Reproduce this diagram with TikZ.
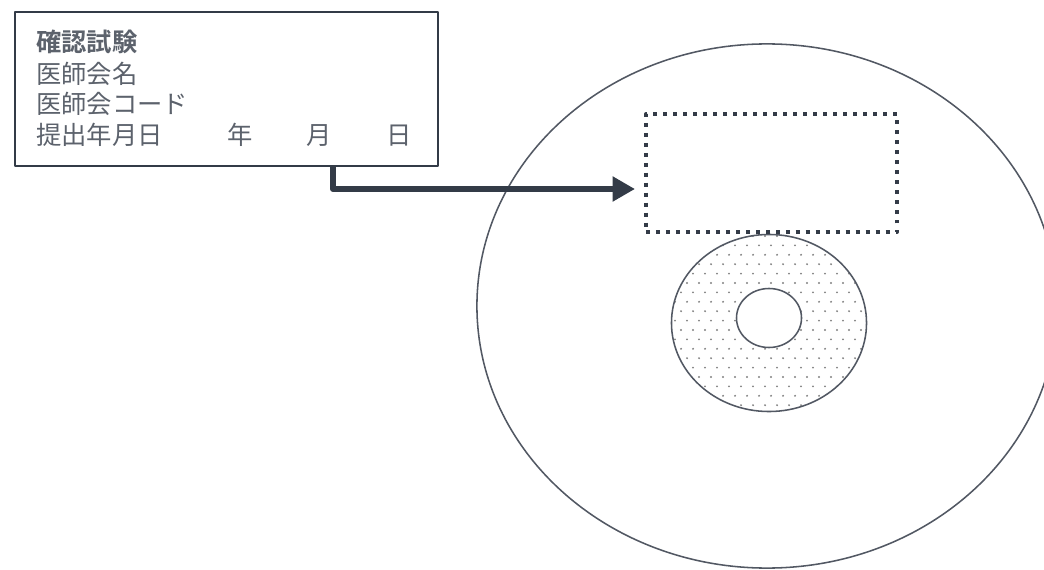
\documentclass[tikz,border=0pt]{standalone}
\usepackage{fontspec}
\usepackage{tikz}
\usetikzlibrary{calc,arrows.meta,positioning}
\newfontfamily\jpfont{Noto Sans CJK JP}[BoldFont={Noto Sans CJK JP Bold}]
\definecolor{ink}{rgb}{0.20,0.23,0.28}
\definecolor{dotgrey}{gray}{0.5}
\tikzset{formtext/.style={font=\jpfont\fontsize{18}{22}\selectfont,anchor=west,inner sep=0pt,text=ink!80}}

\begin{document}
\begin{tikzpicture}[x=0.025cm,y=-0.025cm,line join=round]

\tikzset{formbox/.style={draw=ink,line width=1.1pt,minimum width=10.575cm,minimum height=3.85cm,inner sep=0pt},
labelbox/.style={draw=ink,line width=2.8pt,dash pattern=on 2.8pt off 4.3pt,minimum width=6.275cm,minimum height=2.95cm,inner sep=0pt},
bigarrow/.style={draw=ink,line width=4.3pt,-{Triangle[length=16pt,width=17pt]}},
discline/.style={draw=ink!85,line width=1.1pt}}

\useasboundingbox (0,0) rectangle (1044,570);

% Form
\node (form) [formbox] at (226.5,89) {};
\node (title) [formtext] at (36,42) {\bfseries 確認試験};
\node (name) [formtext] at (36,74) {医師会名};
\node (code) [formtext] at (36,104) {医師会コード};
\node (date) [formtext] at (36,135) {提出年月日\hspace{46pt}年\hspace{38pt}月\hspace{39pt}日};

% Disc
\draw[discline] (767,306) ellipse (7.25cm and 6.55cm);
\begin{scope}
\clip (769,323) ellipse (2.4375cm and 2.2125cm);
\foreach \r in {0,...,19} \foreach \c in {0,...,17} \fill[dotgrey] ({669+\c*12+mod(\r,2)*6},{236+\r*9.4}) circle (0.75pt); % stipple
\end{scope}
\fill[white] (769,318) ellipse (0.8125cm and 0.7375cm);
\draw[discline] (769,323) ellipse (2.4375cm and 2.2125cm);
\draw[discline] (769,318) ellipse (0.8125cm and 0.7375cm);

% Label area
\node (label) [labelbox] at (771.5,173) {};

% Arrow
\coordinate (bend) at (333,189);
\coordinate (tip) at (635,189);
\draw[bigarrow] (form.south -| bend) -- (bend) -- (tip);

\end{tikzpicture}
\end{document}
